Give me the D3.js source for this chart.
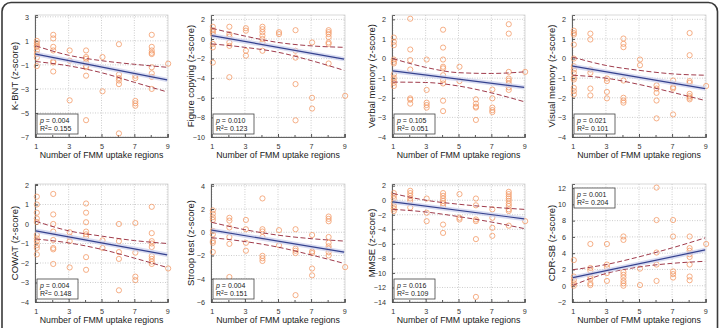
<!DOCTYPE html>
<html>
<head>
<meta charset="utf-8">
<script src="https://cdn.jsdelivr.net/npm/d3@7"></script>
<style>
  body { margin: 0; background: #fff; }
  svg { font-family: "Liberation Sans", Arial, sans-serif; }
  .axis path, .axis line { stroke: #555; }
  .axis text { fill: #333; font-size: 7.2px; }
</style>
</head>
<body>
<script>
// x values shared by all panels (number of FMM uptake regions)
var xTicks = [1, 3, 5, 7, 9];
var xMinor = [2, 4, 6, 8];
var ciX = [1, 3, 5, 7, 9];
var fitX = [1, 9];

// scores grouped by x: index 0 -> x = 1, ..., index 8 -> x = 9
var kbnt = [
  [1.0, 0.8, 0.6, 0.5, 0.2, -0.1, -0.4, -1.1],
  [1.5, 1.2, 0.5, 0.2, -0.7, -0.8, -1.55],
  [0.2, -0.65, -3.95],
  [0.2, -0.35, -0.5, -0.8, -1.1, -1.2, -1.9, -5.6],
  [-0.35, -3.2],
  [0.72, -1.8, -2.1, -2.3, -2.6, -6.7],
  [-1.9, -2.1, -4.0, -4.2, -4.4],
  [1.5, 0.5, 0.2, 0.0, -0.1, -1.2, -1.7, -2.0, -3.0],
  [-0.9]
];
var kbntFit = [-0.1, -2.25];
var kbntUpper = [0.58, -0.2, -0.65, -0.95, -1.2];
var kbntLower = [-0.72, -1.08, -1.65, -2.45, -3.25];

var figCopy = [
  [1.25, 0.9, 0.7, 0.5, -0.5, -0.85, -2.4],
  [1.25, 0.5, 0.25, -0.35, -0.7, -3.9],
  [1.1, 0.85, -1.2, -1.7],
  [1.25, 1.0, 0.7, 0.35, 0.0, -0.35, -1.2],
  [0.7, 0.5],
  [0.9, -1.2, -1.9, -4.6, -8.3],
  [-0.35, -6.0, -7.1],
  [0.9, 0.7, 0.5, 0.2, -0.35, -0.5, -2.5],
  [-5.8]
];
var figCopyFit = [0.35, -2.05];
var figCopyUpper = [1.1, 0.3, -0.35, -0.7, -0.85];
var figCopyLower = [-0.5, -0.85, -1.35, -2.2, -3.2];

var verbal = [
  [1.07, 0.85, 0.68, -0.05, -0.17, -0.25, -0.8, -0.97, -1.1, -1.24, -1.4],
  [2.03, 0.46, -0.08, -0.56, -2.03, -2.1, -2.3],
  [-0.05, -1.6, -2.25, -2.37, -2.5],
  [1.47, 0.56, -0.05, -0.42, -0.5, -0.85, -1.1, -1.27, -2.15, -2.68],
  [-0.42, -1.15],
  [-2.08, -2.3, -2.45, -2.5, -3.13],
  [-1.58, -2.03, -2.5, -2.63, -2.73],
  [1.75, 1.27, -0.68, -1.02, -1.13, -1.27, -1.47, -1.6],
  [-0.68]
];
var verbalFit = [-0.63, -1.47];
var verbalUpper = [0.0, -0.45, -0.72, -0.76, -0.68];
var verbalLower = [-1.2, -1.22, -1.4, -1.75, -2.2];

var visual = [
  [1.42, 1.3, 1.22, 0.71, 0.0, -0.39, -0.56, -0.73, -0.98, -1.07, -1.49, -1.66, -1.83],
  [1.27, 0.97, -0.56, -0.73, -1.53, -1.88],
  [-1.02, -1.15, -1.7, -2.03],
  [1.02, 0.75, 0.58, -1.12, -2.0, -2.14, -2.25],
  [-0.05, -0.34],
  [-1.37, -1.53, -1.75, -2.14, -3.05],
  [-1.12, -1.46, -1.53, -2.85],
  [1.3, 0.17, -1.15, -1.24, -1.8, -1.92, -2.0, -2.08],
  [-1.4]
];
var visualFit = [-0.39, -1.53];
var visualUpper = [0.07, -0.35, -0.6, -0.78, -0.85];
var visualLower = [-0.85, -1.0, -1.32, -1.72, -2.14];

var cowat = [
  [1.4, 1.0, 0.58, 0.28, 0.1, -0.56, -0.74, -0.88, -1.09, -1.23, -1.56],
  [1.54, 0.49, 0.0, -0.39, -0.82, -1.23, -1.3, -2.05],
  [-0.42, -0.65, -0.88, -2.23],
  [1.05, 0.58, 0.09, -0.39, -0.53, -0.65, -1.7, -2.35],
  [-0.84, -1.23],
  [0.0, -0.88, -1.44, -1.79, -3.4],
  [0.05, -1.47, -2.7, -2.88],
  [0.88, -0.47, -0.88, -1.0, -1.18, -1.65, -1.79, -1.93, -2.05],
  [-2.28]
];
var cowatFit = [-0.35, -1.58];
var cowatUpper = [0.14, -0.35, -0.62, -0.85, -1.0];
var cowatLower = [-0.77, -0.97, -1.3, -1.75, -2.23];

var stroop = [
  [1.88, 1.59, 1.29, 1.06, 0.12, -0.18, -0.76, -0.91, -1.7],
  [1.24, 1.0, 0.41, -0.41, -1.0, -3.85],
  [1.06, 0.26, -0.91, -1.59],
  [2.91, 0.26, 0.06, -0.41, -2.03, -2.24, -2.47],
  [0.18, -1.12],
  [0.26, -1.41, -1.59, -1.79, -5.41],
  [-0.24, -1.65, -1.79, -3.12, -3.71],
  [1.35, 1.15, 0.94, -0.41, -0.91, -1.21, -1.41, -1.71, -2.0],
  [-3.0]
];
var stroopFit = [0.18, -1.71];
var stroopUpper = [0.85, 0.22, -0.25, -0.55, -0.76];
var stroopLower = [-0.47, -0.8, -1.28, -1.95, -2.68];

var mmse = [
  [0.98, 0.6, 0.23, -0.33, -0.79, -1.16, -1.49],
  [1.3, 0.98, 0.6, 0.23, -0.09, -1.0],
  [0.23, -1.72, -2.88],
  [0.98, 0.6, 0.23, -0.09, -0.42, -0.79, -3.35, -4.5],
  [0.84, -2.42, -2.65],
  [0.23, -0.7, -2.65, -2.88, -5.35, -13.3],
  [-1.26, -2.42, -3.8, -4.9],
  [1.16, 0.84, 0.51, 0.23, -0.09, -0.47, -0.79, -1.26, -1.49, -3.5],
  [-2.88]
];
var mmseFit = [-0.23, -2.56];
var mmseUpper = [0.93, 0.0, -0.55, -0.95, -1.26];
var mmseLower = [-1.26, -1.62, -2.25, -3.0, -3.9];

var cdrsb = [
  [3.15, 1.13, 0.71, 0.29, 0.0],
  [5.13, 2.18, 1.85, 1.13, 0.84, 0.29, 0.08],
  [5.13, 2.6, 2.27, 1.55, 0.59],
  [6.05, 5.63, 1.68, 1.34, 1.0, 0.59, 0.29, 0.0],
  [2.1, 0.08],
  [12.06, 8.07, 4.08, 2.6, 0.59],
  [8.07, 6.05, 1.76, 1.43, 1.0],
  [6.05, 4.62, 4.29, 3.87, 3.53, 2.6, 1.13, 0.67],
  [5.13]
];
var cdrsbFit = [1.0, 4.4];
var cdrsbUpper = [1.97, 2.6, 3.55, 4.65, 5.88];
var cdrsbLower = [0.05, 1.5, 2.3, 2.75, 3.0];

var yTitles = ["K-BNT (z-score)", "Figure copying (z-score)", "Verbal memory (z-score)", "Visual memory (z-score)",
               "COWAT (z-score)", "Stroop test (z-score)", "MMSE (z-score)", "CDR-SB (z-score)"];
var yTicks = [
  [-7, -5, -3, -1, 1, 3],
  [-10, -8, -6, -4, -2, 0, 2],
  [-4, -3, -2, -1, 0, 1, 2],
  [-4, -3, -2, -1, 0, 1, 2],
  [-4, -3, -2, -1, 0, 1, 2],
  [-6, -4, -2, 0, 2, 4],
  [-14, -12, -10, -8, -6, -4, -2, 0, 2],
  [-2, 0, 2, 4, 6, 8, 10, 12]
];
var yTops = [3.15, 2.45, 2.22, 2.22, 2.05, 4.15, 2.23, 12.5];
var pValues = ["0.004", "0.010", "0.105", "0.021", "0.004", "0.004", "0.016", "0.001"];
var r2Values = ["0.155", "0.123", "0.051", "0.101", "0.148", "0.151", "0.109", "0.204"];
var boxAtTop = [false, false, false, false, false, false, false, true];

var scores = [kbnt, figCopy, verbal, visual, cowat, stroop, mmse, cdrsb];
var fits = [kbntFit, figCopyFit, verbalFit, visualFit, cowatFit, stroopFit, mmseFit, cdrsbFit];
var uppers = [kbntUpper, figCopyUpper, verbalUpper, visualUpper, cowatUpper, stroopUpper, mmseUpper, cdrsbUpper];
var lowers = [kbntLower, figCopyLower, verbalLower, visualLower, cowatLower, stroopLower, mmseLower, cdrsbLower];

// panel layout (pixels)
var lefts = [35, 211, 392, 572];
var rights = [168, 345, 525, 706];
var tops = [15, 184];
var bottoms = [137, 302];

var svg = d3.select("body").append("svg").attr("width", 720).attr("height", 328);

// outer rounded frame
svg.append("rect").attr("x", 2).attr("y", 2.5).attr("width", 715.5).attr("height", 345)
  .attr("rx", 9).attr("fill", "none").attr("stroke", "#3a3a3a").attr("stroke-width", 1.6);

var orange = "#f39b68", blue = "#35428f", red = "#a03c4c";

scores.forEach(function(groups, i){
  var col = i % 4, row = Math.floor(i / 4);
  var w = rights[col] - lefts[col], h = bottoms[row] - tops[row];
  var ticks = yTicks[i];
  var g = svg.append("g").attr("transform", "translate(" + lefts[col] + "," + tops[row] + ")");

  var x = d3.scaleLinear().domain([0.95, 9.05]).range([0, w]);
  var y = d3.scaleLinear().domain([ticks[0], yTops[i]]).range([h, 0]);

  // grid
  g.selectAll(".vg").data(xTicks).enter().append("line")
    .attr("x1", function(d){ return x(d); }).attr("x2", function(d){ return x(d); })
    .attr("y1", 0).attr("y2", h)
    .attr("stroke", "#b8b8b8").attr("stroke-width", 0.7).attr("stroke-dasharray", "1,1.5");
  g.selectAll(".hg").data(ticks).enter().append("line")
    .attr("x1", 0).attr("x2", w)
    .attr("y1", function(d){ return y(d); }).attr("y2", function(d){ return y(d); })
    .attr("stroke", "#b8b8b8").attr("stroke-width", 0.7).attr("stroke-dasharray", "1,1.5");
  g.append("rect").attr("width", w).attr("height", h).attr("fill", "none")
    .attr("stroke", "#c8c8c8").attr("stroke-width", 0.7);

  // axes
  g.append("g").attr("class", "axis").attr("transform", "translate(0," + h + ")")
    .call(d3.axisBottom(x).tickValues(xTicks).tickSize(-3).tickPadding(7).tickFormat(d3.format("d")));
  g.append("g").attr("class", "axis").attr("transform", "translate(0," + h + ")")
    .call(d3.axisBottom(x).tickValues(xMinor).tickSize(-2).tickFormat(""))
    .select(".domain").remove();
  g.append("g").attr("class", "axis")
    .call(d3.axisLeft(y).tickValues(ticks).tickSize(-3).tickPadding(6).tickFormat(d3.format("d")));
  g.selectAll(".axis path").attr("stroke-width", 0.9);

  // points
  var pts = [];
  groups.forEach(function(vals, k){ vals.forEach(function(v){ pts.push([k + 1, v]); }); });
  g.selectAll(".pt").data(pts).enter().append("circle")
    .attr("cx", function(d){ return x(d[0]) + 1; }).attr("cy", function(d){ return y(d[1]); })
    .attr("r", 2.6).attr("fill", "none").attr("stroke", orange).attr("stroke-width", 0.8);

  // confidence bands
  var ci = d3.line().x(function(d, k){ return x(ciX[k]); }).y(function(d){ return y(d); }).curve(d3.curveMonotoneX);
  [uppers[i], lowers[i]].forEach(function(arr){
    g.append("path").attr("d", ci(arr)).attr("fill", "none")
      .attr("stroke", red).attr("stroke-width", 1).attr("stroke-dasharray", "5,2.5");
  });

  // regression line
  var fl = d3.line().x(function(d, k){ return x(fitX[k]); }).y(function(d){ return y(d); });
  g.append("path").attr("d", fl(fits[i])).attr("fill", "none")
    .attr("stroke", "#ccd0ec").attr("stroke-width", 4.5).attr("stroke-opacity", 0.75);
  g.append("path").attr("d", fl(fits[i])).attr("fill", "none")
    .attr("stroke", blue).attr("stroke-width", 1.2);

  // stats box
  var bx = 2, bw = 41, bh = 20;
  var by = boxAtTop[i] ? 4 : h - bh - 3;
  g.append("rect").attr("x", bx).attr("y", by).attr("width", bw).attr("height", bh)
    .attr("fill", "#fff").attr("stroke", "#444").attr("stroke-width", 0.8);
  var t1 = g.append("text").attr("x", bx + 3).attr("y", by + 8.5).attr("font-size", 7).attr("fill", "#222");
  t1.append("tspan").attr("font-style", "italic").text("p");
  t1.append("tspan").text(" = " + pValues[i]);
  var t2 = g.append("text").attr("x", bx + 3).attr("y", by + 17).attr("font-size", 7).attr("fill", "#222");
  t2.append("tspan").text("R");
  t2.append("tspan").attr("font-size", 5).attr("dy", -2.5).text("2");
  t2.append("tspan").attr("dy", 2.5).text("= " + r2Values[i]);

  // titles
  g.append("text").attr("x", w / 2).attr("y", h + 21).attr("text-anchor", "middle")
    .attr("font-size", 8.8).attr("fill", "#222").text("Number of FMM uptake regions");
  g.append("text").attr("transform", "rotate(-90)").attr("x", -h / 2).attr("y", -17)
    .attr("text-anchor", "middle").attr("font-size", 9.5).attr("fill", "#222").text(yTitles[i]);
});
</script>
</body>
</html>
